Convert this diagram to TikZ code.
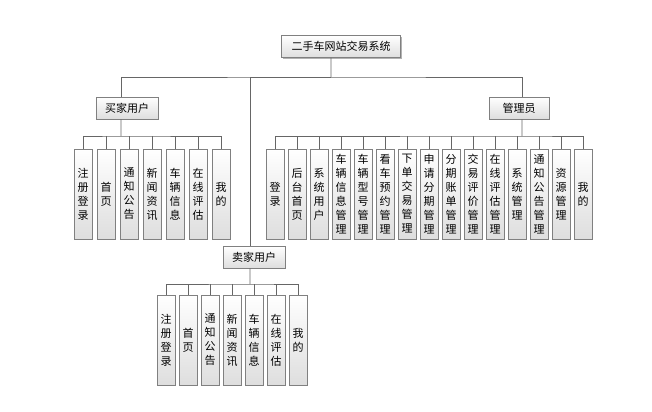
\documentclass[tikz,border=0pt]{standalone}
\usepackage{fontspec}
\setmainfont{Noto Sans CJK SC}
\usetikzlibrary{shadows}
\tikzset{
	box/.style={draw=black!50, line width=0.8bp, top color=white, bottom color=black!13, inner sep=1bp,
		font=\fontsize{11bp}{14bp}\selectfont,
		drop shadow={shadow xshift=1.2bp, shadow yshift=-1.2bp, opacity=0.3, fill=black}},
	headbox/.style={box, minimum height=22bp},
	leafbox/.style={box, minimum width=18bp, minimum height=90bp, align=center, text width=12bp},
	link/.style={draw=black!60, line width=0.9bp},
}

\begin{document}
\begin{tikzpicture}[x=1bp, y=-1bp]
		%%%%% START %%%%%
		\useasboundingbox (0, 0) rectangle (652, 411);
		
		\node[headbox, minimum width=119bp] (root) at (341, 46.5) {二手车网站交易系统};
		\node[headbox, minimum width=62bp] (buyer) at (127, 108) {买家用户};
		\node[headbox, minimum width=60bp] (admin) at (519, 108) {管理员};
		\node[headbox, minimum width=62bp] (seller) at (254, 257) {卖家用户};
		
		\coordinate (bus) at (331, 77);
		\draw[link] ([xshift=-10bp]root.south) -- (bus);
		\draw[link] ([xshift=-6bp]buyer.north) |- (bus) -| ([xshift=3bp]admin.north);
		\draw[link] ([xshift=-4bp]seller.north) |- (bus);
		
		% buyer
		\node[leafbox] (b1) at (83, 194) {注\\册\\登\\录};
		\node[leafbox] (b2) at (106, 194) {首\\页};
		\node[leafbox] (b3) at (129, 194) {通\\知\\公\\告};
		\node[leafbox] (b4) at (152, 194) {新\\闻\\资\\讯};
		\node[leafbox] (b5) at (175, 194) {车\\辆\\信\\息};
		\node[leafbox] (b6) at (198, 194) {在\\线\\评\\估};
		\node[leafbox] (b7) at (221, 194) {我\\的};
		
		\coordinate (bbus) at (121, 136);
		\draw[link] ([xshift=-6bp]buyer.south) -- (bbus);
		\draw[link] (b1.north) |- (bbus) -| (b7.north);
		\foreach \n in {b2,b3,b4,b5,b6}
			\draw[link] (\n.north) -- (\n.north |- bbus);
		
		% admin
		\node[leafbox] (a1) at (275, 194) {登\\录};
		\node[leafbox] (a2) at (297, 194) {后\\台\\首\\页};
		\node[leafbox] (a3) at (319, 194) {系\\统\\用\\户};
		\node[leafbox] (a4) at (341, 194) {车\\辆\\信\\息\\管\\理};
		\node[leafbox] (a5) at (363, 194) {车\\辆\\型\\号\\管\\理};
		\node[leafbox] (a6) at (385, 194) {看\\车\\预\\约\\管\\理};
		\node[leafbox] (a7) at (407, 194) {下\\单\\交\\易\\管\\理};
		\node[leafbox] (a8) at (429, 194) {申\\请\\分\\期\\管\\理};
		\node[leafbox] (a9) at (451, 194) {分\\期\\账\\单\\管\\理};
		\node[leafbox] (a10) at (473, 194) {交\\易\\评\\价\\管\\理};
		\node[leafbox] (a11) at (495, 194) {在\\线\\评\\估\\管\\理};
		\node[leafbox] (a12) at (517, 194) {系\\统\\管\\理};
		\node[leafbox] (a13) at (539, 194) {通\\知\\公\\告\\管\\理};
		\node[leafbox] (a14) at (561, 194) {资\\源\\管\\理};
		\node[leafbox] (a15) at (583, 194) {我\\的};
		
		\coordinate (abus) at (522, 136);
		\draw[link] ([xshift=3bp]admin.south) -- (abus);
		\draw[link] (a1.north) |- (abus) -| (a15.north);
		\foreach \n in {a2,a3,a4,a5,a6,a7,a8,a9,a10,a11,a12,a13,a14}
			\draw[link] (\n.north) -- (\n.north |- abus);
		
		% seller
		\node[leafbox] (s1) at (166, 340) {注\\册\\登\\录};
		\node[leafbox] (s2) at (188, 340) {首\\页};
		\node[leafbox] (s3) at (210, 340) {通\\知\\公\\告};
		\node[leafbox] (s4) at (232, 340) {新\\闻\\资\\讯};
		\node[leafbox] (s5) at (254, 340) {车\\辆\\信\\息};
		\node[leafbox] (s6) at (276, 340) {在\\线\\评\\估};
		\node[leafbox] (s7) at (298, 340) {我\\的};
		
		\coordinate (sbus) at (250, 284);
		\draw[link] ([xshift=-4bp]seller.south) -- (sbus);
		\draw[link] (s1.north) |- (sbus) -| (s7.north);
		\foreach \n in {s2,s3,s4,s5,s6}
			\draw[link] (\n.north) -- (\n.north |- sbus);
		%%%%% END %%%%%
\end{tikzpicture}
\end{document}
